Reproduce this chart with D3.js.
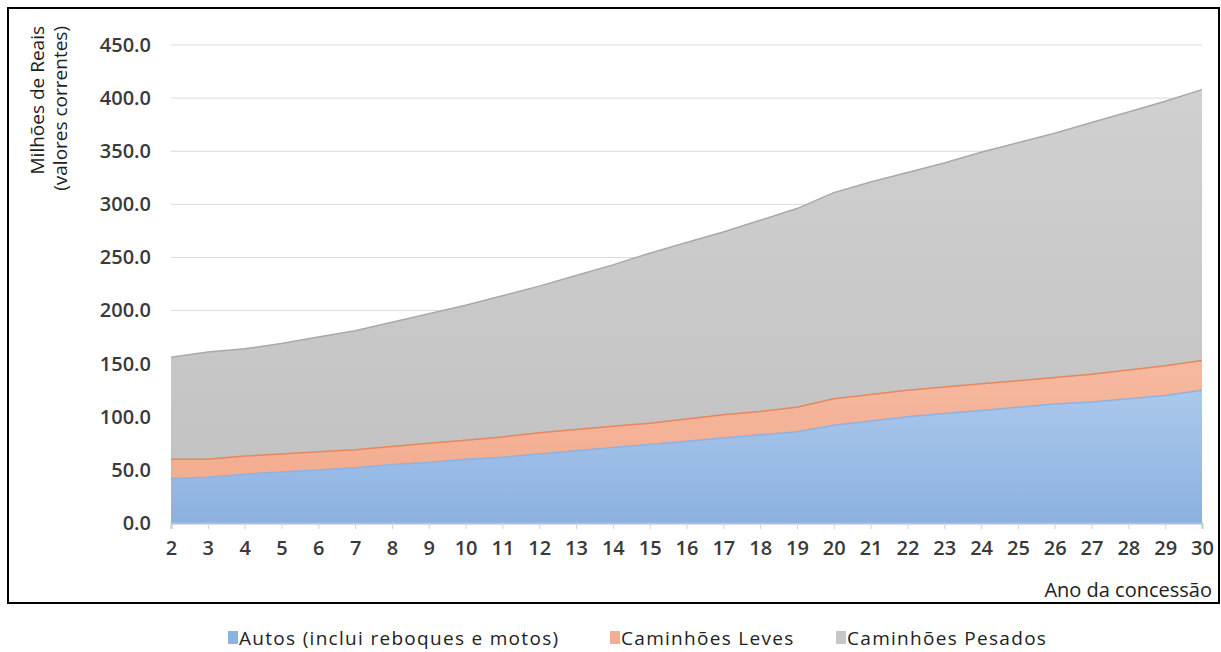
<!DOCTYPE html>
<html>
<head>
<meta charset="utf-8">
<script src="https://cdnjs.cloudflare.com/ajax/libs/d3/7.8.5/d3.min.js"></script>
<style>
  body { margin: 0; background: #fff; }
  svg text { font-family: "Open Sans", "Liberation Sans", sans-serif; fill: #404040; }
</style>
</head>
<body>
<div id="chart"></div>
<script>
// Years of the concession (x axis)
const years = d3.range(2, 31);

// Values per category, millions of reais
const autos = [42, 43, 46, 48, 50, 52, 55, 57, 60, 62, 65, 68, 71, 74, 77, 80, 83, 86, 92, 96, 100, 103, 106, 109, 112, 114, 117, 120, 125];
const leves = [18, 17, 17, 17, 17, 17, 17, 18, 18, 19, 20, 20, 20, 20, 21, 22, 22, 23, 25, 25, 25, 25, 25, 25, 25, 26, 27, 28, 28];
const pesados = [96, 101, 101, 104, 108, 112, 117, 122, 127, 133, 138, 145, 152, 160, 166, 172, 180, 187, 194, 200, 205, 211, 218, 224, 230, 237, 243, 249, 255];

const seriesNames = ["Autos (inclui reboques e motos)", "Caminhões Leves", "Caminhões Pesados"];
const yTicks = [0, 50, 100, 150, 200, 250, 300, 350, 400, 450];

const W = 1221, H = 652;
const margin = {top: 45, right: 19, bottom: 129, left: 171};
const width = W - margin.left - margin.right,
      height = H - margin.top - margin.bottom;

const svg = d3.select("#chart").append("svg")
    .attr("width", W)
    .attr("height", H);

// Outer frame
svg.append("rect")
    .attr("x", 8).attr("y", 8)
    .attr("width", 1211).attr("height", 595)
    .attr("fill", "none")
    .attr("stroke", "#000")
    .attr("stroke-width", 2);

const defs = svg.append("defs");
const grad = (id, c1, c2) => {
    const g = defs.append("linearGradient").attr("id", id)
        .attr("x1", 0).attr("y1", 0).attr("x2", 0).attr("y2", 1);
    g.append("stop").attr("offset", "0%").attr("stop-color", c1);
    g.append("stop").attr("offset", "100%").attr("stop-color", c2);
};
grad("gAutos", "#abc8ec", "#8cb1e0");
grad("gLeves", "#f6b9a0", "#f3ad90");
grad("gPesados", "#d0d0d0", "#c3c3c3");

const g = svg.append("g").attr("transform", `translate(${margin.left},${margin.top})`);

const x = d3.scaleLinear().domain([2, 30]).range([0, width]);
const y = d3.scaleLinear().domain([0, 450]).range([height, 0]);

// Gridlines
g.append("g")
    .selectAll("line")
    .data(yTicks.slice(1))
    .join("line")
    .attr("x1", 0).attr("x2", width)
    .attr("y1", d => y(d)).attr("y2", d => y(d))
    .attr("stroke", "#d9d9d9")
    .attr("stroke-width", 1);

// Stack the data
const table = years.map((yr, i) => ({year: yr, a: autos[i], l: leves[i], p: pesados[i]}));
const stack = d3.stack().keys(["a", "l", "p"]);
const layers = stack(table);

const fills = ["url(#gAutos)", "url(#gLeves)", "url(#gPesados)"];
const edges = ["#8db2e0", "#e8865c", "#a9a9a9"];

const area = d3.area()
    .x(d => x(d.data.year))
    .y0(d => y(d[0]))
    .y1(d => y(d[1]));
const topLine = d3.line()
    .x(d => x(d.data.year))
    .y(d => y(d[1]));

// Draw from the top layer down so the lower edges stay visible
layers.slice().reverse().forEach(layer => {
    g.append("path")
        .datum(layer)
        .attr("fill", fills[layer.index])
        .attr("d", area);
});
layers.forEach(layer => {
    g.append("path")
        .datum(layer)
        .attr("fill", "none")
        .attr("stroke", edges[layer.index])
        .attr("stroke-width", 1.5)
        .attr("d", topLine);
});

// X axis
const xAxis = g.append("g")
    .attr("transform", `translate(0,${height})`)
    .call(d3.axisBottom(x).tickValues(years).tickFormat(d3.format("d")).tickSize(6).tickPadding(12));
xAxis.select(".domain").attr("stroke", "#a9c0e0").attr("stroke-width", 2);
xAxis.selectAll(".tick line").attr("stroke", "#d0d0d0");
xAxis.selectAll("text")
    .style("font-size", "20px")
    .style("font-weight", "600")
    .style("fill", "#3a3a3a");

// Y axis
const yAxis = g.append("g")
    .call(d3.axisLeft(y).tickValues(yTicks).tickFormat(d3.format(".1f")).tickSize(0).tickPadding(20));
yAxis.select(".domain").remove();
yAxis.selectAll("text")
    .style("font-size", "20px")
    .style("font-weight", "600")
    .style("fill", "#3a3a3a");

// Y title (two lines)
const yTitle = svg.append("text")
    .attr("transform", "translate(0,26) rotate(-90)")
    .attr("text-anchor", "end")
    .style("font-size", "19px")
    .style("fill", "#222");
yTitle.append("tspan").attr("x", 0).attr("y", 44).text("Milhões de Reais");
yTitle.append("tspan").attr("x", 0).attr("y", 67).text("(valores correntes)");

// X title
svg.append("text")
    .attr("x", 1212).attr("y", 597)
    .attr("text-anchor", "end")
    .style("font-size", "20px")
    .style("fill", "#222")
    .text("Ano da concessão");

// Legend
const legendX = [228, 610, 836];
const legendColors = ["#8db2e0", "#f3ad90", "#c6c6c6"];
const legend = svg.append("g");
seriesNames.forEach((name, i) => {
    legend.append("rect")
        .attr("x", legendX[i]).attr("y", 631)
        .attr("width", 10).attr("height", 13)
        .attr("fill", legendColors[i]);
    legend.append("text")
        .attr("x", legendX[i] + 11).attr("y", 645)
        .style("font-size", "19px")
        .style("letter-spacing", "1.3px")
        .style("fill", "#222")
        .text(name);
});
</script>
</body>
</html>
